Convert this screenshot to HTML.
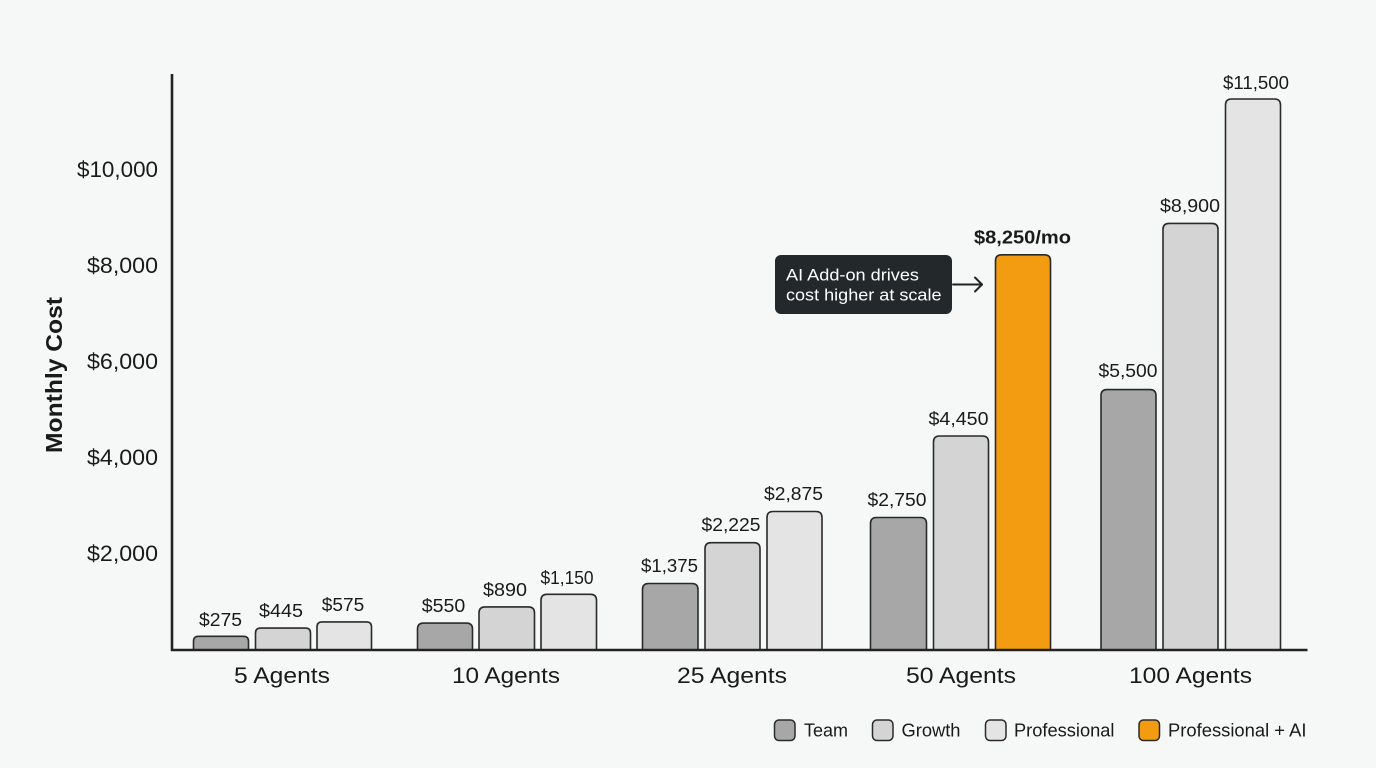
<!DOCTYPE html>
<html>
<head>
<meta charset="utf-8">
<style>
  html,body{margin:0;padding:0;background:#f6f7f7;}
  svg{display:block;}
  text{font-family:"Liberation Sans",sans-serif;fill:#1a1a1a;}
</style>
</head>
<body>
<svg width="1376" height="768" viewBox="0 0 1376 768" xmlns="http://www.w3.org/2000/svg">
  <rect x="0" y="0" width="1376" height="768" fill="#f6f7f7"/>

  <!-- Y axis title -->
  <text x="0" y="0" transform="translate(62,375) rotate(-90)" text-anchor="middle" font-size="23" font-weight="bold" textLength="156" lengthAdjust="spacingAndGlyphs">Monthly Cost</text>

  <!-- Y tick labels -->
  <g font-size="22" text-anchor="end">
    <text x="158" y="177" textLength="81" lengthAdjust="spacingAndGlyphs">$10,000</text>
    <text x="158" y="273" textLength="71" lengthAdjust="spacingAndGlyphs">$8,000</text>
    <text x="158" y="369" textLength="71" lengthAdjust="spacingAndGlyphs">$6,000</text>
    <text x="158" y="465" textLength="71" lengthAdjust="spacingAndGlyphs">$4,000</text>
    <text x="158" y="561" textLength="71" lengthAdjust="spacingAndGlyphs">$2,000</text>
  </g>

  <!-- Bars -->
  <g stroke="#2a2a2a" stroke-width="1.6">
    <!-- 5 Agents -->
    <path d="M193.5,650 V641.3 Q193.5,636.3 198.5,636.3 H243.5 Q248.5,636.3 248.5,641.3 V650 Z" fill="#a7a7a7"/>
    <path d="M255.5,650 V633.1 Q255.5,628.1 260.5,628.1 H305.5 Q310.5,628.1 310.5,633.1 V650 Z" fill="#d4d4d4"/>
    <path d="M317,650 V626.9 Q317,621.9 322,621.9 H366.5 Q371.5,621.9 371.5,626.9 V650 Z" fill="#e4e4e4"/>
    <!-- 10 Agents -->
    <path d="M417.5,650 V629.1 Q417.5,623.1 423.5,623.1 H466.5 Q472.5,623.1 472.5,629.1 V650 Z" fill="#a7a7a7"/>
    <path d="M479,650 V612.9 Q479,606.9 485,606.9 H528.5 Q534.5,606.9 534.5,612.9 V650 Z" fill="#d4d4d4"/>
    <path d="M541,650 V600.3 Q541,594.3 547,594.3 H590.5 Q596.5,594.3 596.5,600.3 V650 Z" fill="#e4e4e4"/>
    <!-- 25 Agents -->
    <path d="M642.5,650 V589.5 Q642.5,583.5 648.5,583.5 H692 Q698,583.5 698,589.5 V650 Z" fill="#a7a7a7"/>
    <path d="M705,650 V548.7 Q705,542.7 711,542.7 H754 Q760,542.7 760,548.7 V650 Z" fill="#d4d4d4"/>
    <path d="M767,650 V517.5 Q767,511.5 773,511.5 H816 Q822,511.5 822,517.5 V650 Z" fill="#e4e4e4"/>
    <!-- 50 Agents -->
    <path d="M870.5,650 V523.5 Q870.5,517.5 876.5,517.5 H920.5 Q926.5,517.5 926.5,523.5 V650 Z" fill="#a7a7a7"/>
    <path d="M933.5,650 V442 Q933.5,436 939.5,436 H982.5 Q988.5,436 988.5,442 V650 Z" fill="#d4d4d4"/>
    <path d="M995.5,650 V260.8 Q995.5,254.8 1001.5,254.8 H1044.5 Q1050.5,254.8 1050.5,260.8 V650 Z" fill="#f39c12"/>
    <!-- 100 Agents -->
    <path d="M1101,650 V395.6 Q1101,389.6 1107,389.6 H1150 Q1156,389.6 1156,395.6 V650 Z" fill="#a7a7a7"/>
    <path d="M1163,650 V229.4 Q1163,223.4 1169,223.4 H1212 Q1218,223.4 1218,229.4 V650 Z" fill="#d4d4d4"/>
    <path d="M1225.5,650 V105 Q1225.5,99 1231.5,99 H1274.5 Q1280.5,99 1280.5,105 V650 Z" fill="#e4e4e4"/>
  </g>

  <!-- Axes -->
  <line x1="172" y1="74" x2="172" y2="651" stroke="#222" stroke-width="2.6"/>
  <line x1="171" y1="650" x2="1307.5" y2="650" stroke="#222" stroke-width="2.6"/>

  <!-- Value labels -->
  <g font-size="18" text-anchor="middle">
    <text x="220.5" y="626" textLength="43" lengthAdjust="spacingAndGlyphs">$275</text>
    <text x="281" y="617" textLength="44" lengthAdjust="spacingAndGlyphs">$445</text>
    <text x="343" y="611" textLength="42.5" lengthAdjust="spacingAndGlyphs">$575</text>
    <text x="443.5" y="612" textLength="43.5" lengthAdjust="spacingAndGlyphs">$550</text>
    <text x="505" y="596" textLength="44" lengthAdjust="spacingAndGlyphs">$890</text>
    <text x="567" y="584" textLength="53" lengthAdjust="spacingAndGlyphs">$1,150</text>
    <text x="669.5" y="572" textLength="57" lengthAdjust="spacingAndGlyphs">$1,375</text>
    <text x="731" y="531" textLength="59" lengthAdjust="spacingAndGlyphs">$2,225</text>
    <text x="793.5" y="500" textLength="59" lengthAdjust="spacingAndGlyphs">$2,875</text>
    <text x="897" y="506" textLength="59" lengthAdjust="spacingAndGlyphs">$2,750</text>
    <text x="958.5" y="425" textLength="60" lengthAdjust="spacingAndGlyphs">$4,450</text>
    <text x="1128" y="377" textLength="59" lengthAdjust="spacingAndGlyphs">$5,500</text>
    <text x="1190" y="212" textLength="60" lengthAdjust="spacingAndGlyphs">$8,900</text>
    <text x="1256" y="89" textLength="66" lengthAdjust="spacingAndGlyphs">$11,500</text>
    <text x="1022.5" y="243.5" font-weight="bold" textLength="97" lengthAdjust="spacingAndGlyphs">$8,250/mo</text>
  </g>

  <!-- Annotation -->
  <rect x="775" y="255" width="177" height="59" rx="6" ry="6" fill="#23282a"/>
  <text x="786" y="280.5" font-size="17" style="fill:#ffffff" textLength="133" lengthAdjust="spacingAndGlyphs">AI Add-on drives</text>
  <text x="786" y="300.5" font-size="17" style="fill:#ffffff" textLength="155.5" lengthAdjust="spacingAndGlyphs">cost higher at scale</text>
  <g stroke="#222" stroke-width="2" fill="none" stroke-linecap="round" stroke-linejoin="round">
    <line x1="953" y1="284.5" x2="982" y2="284.5"/>
    <polyline points="975,277.5 982,284.5 975,291.5"/>
  </g>

  <!-- Category labels -->
  <g font-size="22" text-anchor="middle">
    <text x="282" y="683" textLength="96" lengthAdjust="spacingAndGlyphs">5 Agents</text>
    <text x="506" y="683" textLength="108" lengthAdjust="spacingAndGlyphs">10 Agents</text>
    <text x="732" y="683" textLength="110" lengthAdjust="spacingAndGlyphs">25 Agents</text>
    <text x="961" y="683" textLength="110" lengthAdjust="spacingAndGlyphs">50 Agents</text>
    <text x="1190.5" y="683" textLength="123" lengthAdjust="spacingAndGlyphs">100 Agents</text>
  </g>

  <!-- Legend -->
  <g stroke="#2a2a2a" stroke-width="1.5">
    <rect x="774.5" y="720" width="20.5" height="20.5" rx="4.5" fill="#a7a7a7"/>
    <rect x="872.5" y="720" width="20.5" height="20.5" rx="4.5" fill="#d4d4d4"/>
    <rect x="985.5" y="720" width="20.5" height="20.5" rx="4.5" fill="#e4e4e4"/>
    <rect x="1139" y="720" width="20.5" height="20.5" rx="4.5" fill="#f39c12"/>
  </g>
  <g font-size="18">
    <text x="804" y="736.5" textLength="44" lengthAdjust="spacingAndGlyphs">Team</text>
    <text x="901.5" y="736.5" textLength="59" lengthAdjust="spacingAndGlyphs">Growth</text>
    <text x="1014" y="736.5" textLength="100.5" lengthAdjust="spacingAndGlyphs">Professional</text>
    <text x="1168" y="736.5" textLength="138.5" lengthAdjust="spacingAndGlyphs">Professional + AI</text>
  </g>
</svg>
</body>
</html>
